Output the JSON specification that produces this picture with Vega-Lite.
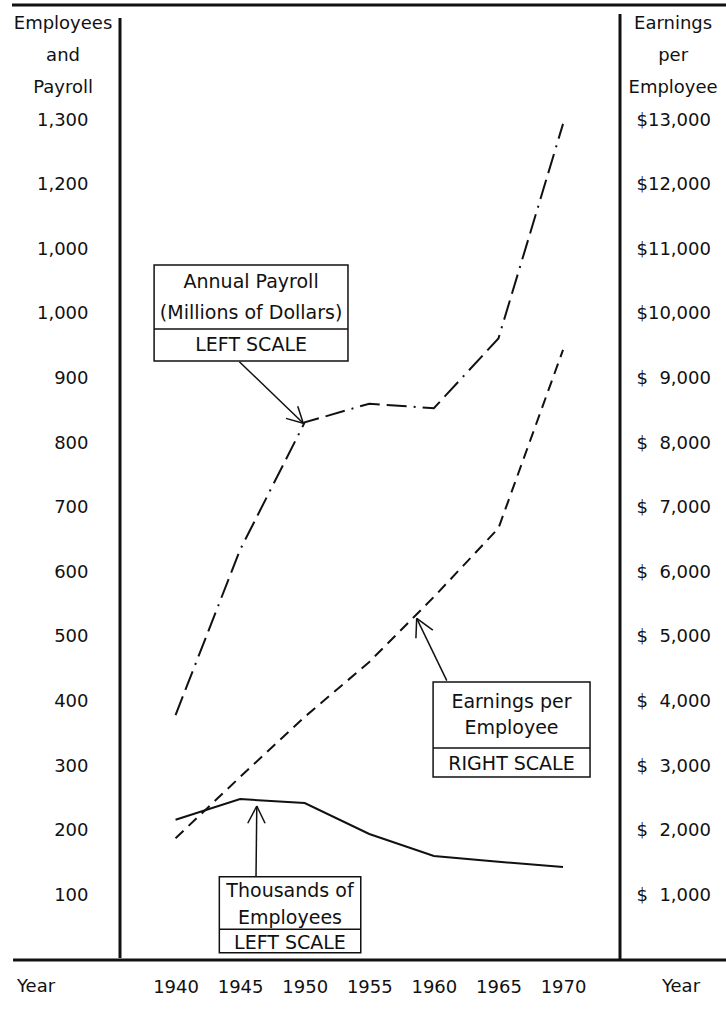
{
  "$schema": "https://vega.github.io/schema/vega-lite/v6.json",
  "autosize": {"type": "none"},
  "padding": {"left": 120, "top": 5, "right": 106, "bottom": 54},
  "width": 500,
  "height": 955,
  "background": "white",
  "config": {
    "view": {"stroke": null},
    "font": "DejaVu Sans",
    "axis": {"grid": false, "domain": false, "ticks": false, "tickSize": 0, "labelFont": "DejaVu Sans", "labelFontSize": 18, "labelColor": "#111111", "labelOverlap": false}
  },
  "datasets": {
    "series": [
      {"year": 1940, "payroll": 379, "employees": 217, "earnings": 1884},
      {"year": 1945, "payroll": 635, "employees": 249, "earnings": 2833},
      {"year": 1950, "payroll": 832, "employees": 243, "earnings": 3762},
      {"year": 1955, "payroll": 861, "employees": 195, "earnings": 4613},
      {"year": 1960, "payroll": 854, "employees": 161, "earnings": 5619},
      {"year": 1965, "payroll": 962, "employees": 152, "earnings": 6683},
      {"year": 1970, "payroll": 1294, "employees": 144, "earnings": 9443}
    ],
    "frame": [
      {"x": 1927.34, "x2": 1982.62, "y": 1478, "y2": 1478},
      {"x": 1927.42, "x2": 1982.62, "y": 0, "y2": 0},
      {"x": 1935.7, "x2": 1935.7, "y": 1458, "y2": 3},
      {"x": 1974.41, "x2": 1974.41, "y": 1464, "y2": 0}
    ],
    "boxes": [
      {"x": 1938.34, "x2": 1953.35, "y": 1075.6, "y2": 927.0},
      {"x": 1959.94, "x2": 1972.09, "y": 430.2, "y2": 283.2},
      {"x": 1943.39, "x2": 1954.34, "y": 128.9, "y2": 11.3}
    ],
    "thin": [
      {"x": 1938.34, "x2": 1953.35, "y": 976.6, "y2": 976.6},
      {"x": 1959.94, "x2": 1972.09, "y": 328.1, "y2": 328.1},
      {"x": 1943.39, "x2": 1954.34, "y": 47.5, "y2": 47.5},
      {"x": 1944.94, "x2": 1949.89, "y": 926.0, "y2": 830.6},
      {"x": 1949.89, "x2": 1949.46, "y": 830.6, "y2": 857.1},
      {"x": 1949.89, "x2": 1948.55, "y": 830.6, "y2": 838.2},
      {"x": 1961.0, "x2": 1958.67, "y": 432.3, "y2": 528.8},
      {"x": 1958.67, "x2": 1958.61, "y": 528.8, "y2": 497.9},
      {"x": 1958.67, "x2": 1959.92, "y": 528.8, "y2": 510.4},
      {"x": 1946.23, "x2": 1946.29, "y": 128.9, "y2": 238.3},
      {"x": 1946.29, "x2": 1945.59, "y": 238.3, "y2": 211.6},
      {"x": 1946.29, "x2": 1946.93, "y": 238.3, "y2": 211.6}
    ],
    "boxtext": [
      {"label": "Annual Payroll", "x": 1945.85, "y": 1049.8},
      {"label": "(Millions of Dollars)", "x": 1945.85, "y": 1000.9},
      {"label": "LEFT SCALE", "x": 1945.85, "y": 951.8},
      {"label": "Earnings per", "x": 1966.01, "y": 399.8},
      {"label": "Employee", "x": 1966.01, "y": 358.6},
      {"label": "RIGHT SCALE", "x": 1966.01, "y": 303.3},
      {"label": "Thousands of", "x": 1948.86, "y": 107.3},
      {"label": "Employees", "x": 1948.86, "y": 65.5},
      {"label": "LEFT SCALE", "x": 1948.86, "y": 26.8}
    ],
    "axistext": [
      {"label": "Employees", "x": 1931.29, "y": 1448.6},
      {"label": "and", "x": 1931.29, "y": 1399.1},
      {"label": "Payroll", "x": 1931.29, "y": 1349.6},
      {"label": "Earnings", "x": 1978.52, "y": 1448.6},
      {"label": "per", "x": 1978.52, "y": 1399.1},
      {"label": "Employee", "x": 1978.52, "y": 1349.6},
      {"label": "Year", "x": 1929.2, "y": -41.8},
      {"label": "Year", "x": 1979.13, "y": -41.8}
    ]
  },
  "layer": [
    {
      "layer": [
        {
          "data": {"name": "series"},
          "mark": {"type": "line", "color": "#111111", "strokeWidth": 2, "strokeDash": [20, 7, 20, 7, 2, 7]},
          "encoding": {
            "x": {"field": "year", "type": "quantitative", "title": null, "scale": {"domain": [1935.7, 1974.41], "nice": false, "zero": false}, "axis": {"values": [1940, 1945, 1950, 1955, 1960, 1965, 1970], "format": "d", "labelPadding": 27, "labelBaseline": "middle"}},
            "y": {"field": "payroll", "type": "quantitative", "title": null, "scale": {"domain": [0, 1478], "nice": false, "zero": false}, "axis": {"orient": "left", "values": [100, 200, 300, 400, 500, 600, 700, 800, 900, 1000, 1100, 1200, 1300], "labelExpr": "datum.value == 1100 ? '1,000' : format(datum.value, ',')", "labelPadding": 32, "labelAlign": "right", "labelBaseline": "middle"}}
          }
        },
        {
          "data": {"name": "series"},
          "mark": {"type": "line", "color": "#111111", "strokeWidth": 2},
          "encoding": {
            "x": {"field": "year", "type": "quantitative", "title": null, "scale": {"domain": [1935.7, 1974.41], "nice": false, "zero": false}},
            "y": {"field": "employees", "type": "quantitative", "title": null, "scale": {"domain": [0, 1478], "nice": false, "zero": false}}
          }
        },
        {
          "data": {"name": "frame"},
          "mark": {"type": "rule", "color": "#111111", "strokeWidth": 3},
          "encoding": {
            "x": {"field": "x", "type": "quantitative", "title": null, "scale": {"domain": [1935.7, 1974.41], "nice": false, "zero": false}},
            "x2": {"field": "x2"},
            "y": {"field": "y", "type": "quantitative", "title": null, "scale": {"domain": [0, 1478], "nice": false, "zero": false}},
            "y2": {"field": "y2"}
          }
        },
        {
          "data": {"name": "boxes"},
          "mark": {"type": "rect", "fill": "white", "stroke": "#111111", "strokeWidth": 1.5},
          "encoding": {
            "x": {"field": "x", "type": "quantitative", "title": null, "scale": {"domain": [1935.7, 1974.41], "nice": false, "zero": false}},
            "x2": {"field": "x2"},
            "y": {"field": "y", "type": "quantitative", "title": null, "scale": {"domain": [0, 1478], "nice": false, "zero": false}},
            "y2": {"field": "y2"}
          }
        },
        {
          "data": {"name": "thin"},
          "mark": {"type": "rule", "color": "#111111", "strokeWidth": 1.5},
          "encoding": {
            "x": {"field": "x", "type": "quantitative", "title": null, "scale": {"domain": [1935.7, 1974.41], "nice": false, "zero": false}},
            "x2": {"field": "x2"},
            "y": {"field": "y", "type": "quantitative", "title": null, "scale": {"domain": [0, 1478], "nice": false, "zero": false}},
            "y2": {"field": "y2"}
          }
        },
        {
          "data": {"name": "boxtext"},
          "mark": {"type": "text", "font": "DejaVu Sans", "fontSize": 19, "color": "#111111", "align": "center", "baseline": "middle"},
          "encoding": {
            "x": {"field": "x", "type": "quantitative", "title": null, "scale": {"domain": [1935.7, 1974.41], "nice": false, "zero": false}},
            "y": {"field": "y", "type": "quantitative", "title": null, "scale": {"domain": [0, 1478], "nice": false, "zero": false}},
            "text": {"field": "label"}
          }
        },
        {
          "data": {"name": "axistext"},
          "mark": {"type": "text", "font": "DejaVu Sans", "fontSize": 18, "color": "#111111", "align": "center", "baseline": "middle"},
          "encoding": {
            "x": {"field": "x", "type": "quantitative", "title": null, "scale": {"domain": [1935.7, 1974.41], "nice": false, "zero": false}},
            "y": {"field": "y", "type": "quantitative", "title": null, "scale": {"domain": [0, 1478], "nice": false, "zero": false}},
            "text": {"field": "label"}
          }
        }
      ]
    },
    {
      "data": {"name": "series"},
      "mark": {"type": "line", "color": "#111111", "strokeWidth": 2, "strokeDash": [11, 7]},
      "encoding": {
        "x": {"field": "year", "type": "quantitative", "title": null, "scale": {"domain": [1935.7, 1974.41], "nice": false, "zero": false}},
        "y": {"field": "earnings", "type": "quantitative", "title": null, "scale": {"domain": [0, 14780], "nice": false, "zero": false}, "axis": {"orient": "right", "values": [1000, 2000, 3000, 4000, 5000, 6000, 7000, 8000, 9000, 10000, 11000, 12000, 13000], "labelExpr": "datum.value >= 10000 ? '$' + format(datum.value, ',') : '$\u2007' + format(datum.value, ',')", "labelPadding": 16, "labelAlign": "left", "labelBaseline": "middle"}}
      }
    }
  ],
  "resolve": {"scale": {"y": "independent"}}
}
